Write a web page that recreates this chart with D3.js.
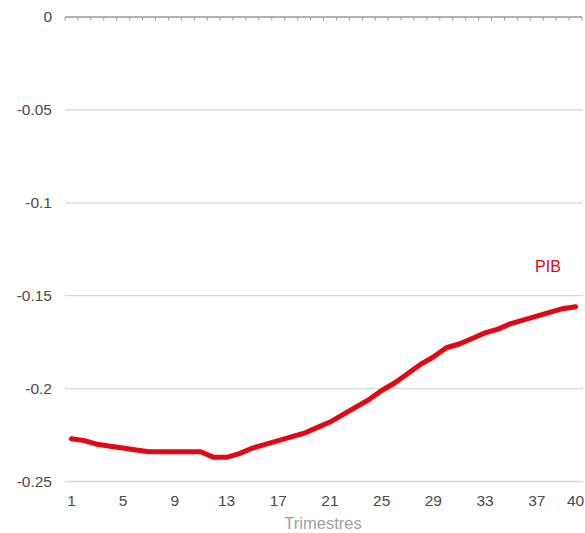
<!DOCTYPE html>
<html>
<head>
<meta charset="utf-8">
<script src="https://cdn.jsdelivr.net/npm/d3@7"></script>
<style>
  html, body { margin: 0; padding: 0; background: #fff; }
  svg { display: block; font-family: "Liberation Sans", Arial, sans-serif; }
</style>
</head>
<body>
<svg id="chart" width="585" height="533"></svg>
<script>
// Quarters 1..40
const quarters = d3.range(1, 41);
// PIB response by quarter
const pib = [
  -0.227, -0.228, -0.230, -0.231, -0.232, -0.233, -0.234, -0.234, -0.234, -0.234,
  -0.234, -0.237, -0.237, -0.235, -0.232, -0.230, -0.228, -0.226, -0.224, -0.221,
  -0.218, -0.214, -0.210, -0.206, -0.201, -0.197, -0.192, -0.187, -0.183, -0.178,
  -0.176, -0.173, -0.170, -0.168, -0.165, -0.163, -0.161, -0.159, -0.157, -0.156
];
const xTickLabels = [1, 5, 9, 13, 17, 21, 25, 29, 33, 37, 40];
const yTicks = [0, -0.05, -0.1, -0.15, -0.2, -0.25];
const seriesName = "PIB";
const xTitle = "Trimestres";

const svg = d3.select("#chart");
const plotLeft = 65, plotRight = 582, plotTop = 17, plotBottom = 481.5;

const x = d3.scaleBand().domain(quarters).range([plotLeft, plotRight]);
const y = d3.scaleLinear().domain([-0.25, 0]).range([plotBottom, plotTop]);
const cx = q => x(q) + x.bandwidth() / 2;

// horizontal gridlines
svg.append("g")
  .selectAll("line")
  .data(yTicks.filter(t => t !== 0))
  .join("line")
  .attr("x1", plotLeft).attr("x2", plotRight + 1)
  .attr("y1", d => y(d)).attr("y2", d => y(d))
  .attr("stroke", "#d9d9d9").attr("stroke-width", 1.3);

// y tick labels
svg.append("g")
  .selectAll("text")
  .data(yTicks)
  .join("text")
  .attr("x", 52).attr("y", d => y(d))
  .attr("dy", "0.35em")
  .attr("text-anchor", "end")
  .attr("fill", "#4a4a4a")
  .attr("font-size", 15.5)
  .text(d => String(d));

// zero axis with band-boundary ticks
const zeroY = y(0);
svg.append("line")
  .attr("x1", plotLeft).attr("x2", plotRight)
  .attr("y1", zeroY).attr("y2", zeroY)
  .attr("stroke", "#9a9a9a").attr("stroke-width", 1.3);
const boundaries = quarters.map(q => x(q)).concat([plotRight]);
svg.append("g")
  .selectAll("line")
  .data(boundaries)
  .join("line")
  .attr("x1", d => d).attr("x2", d => d)
  .attr("y1", zeroY).attr("y2", zeroY + 3.5)
  .attr("stroke", "#9a9a9a").attr("stroke-width", 1);

// x tick labels
svg.append("g")
  .selectAll("text")
  .data(xTickLabels)
  .join("text")
  .attr("x", d => cx(d)).attr("y", 506)
  .attr("text-anchor", "middle")
  .attr("fill", "#4a4a4a")
  .attr("font-size", 15.5)
  .text(d => d);

// x title
svg.append("text")
  .attr("x", 323).attr("y", 529)
  .attr("text-anchor", "middle")
  .attr("fill", "#a0a0a0")
  .attr("font-size", 16.5)
  .text(xTitle);

// PIB line
const line = d3.line()
  .x((d, i) => cx(quarters[i]))
  .y(d => y(d));
svg.append("path")
  .datum(pib)
  .attr("d", line)
  .attr("fill", "none")
  .attr("stroke", "#e30613")
  .attr("stroke-width", 5)
  .attr("stroke-linejoin", "round")
  .attr("stroke-linecap", "round");

// series label
svg.append("text")
  .attr("x", 548).attr("y", 272)
  .attr("text-anchor", "middle")
  .attr("fill", "#e30613")
  .attr("font-size", 16)
  .text(seriesName);
</script>
</body>
</html>
